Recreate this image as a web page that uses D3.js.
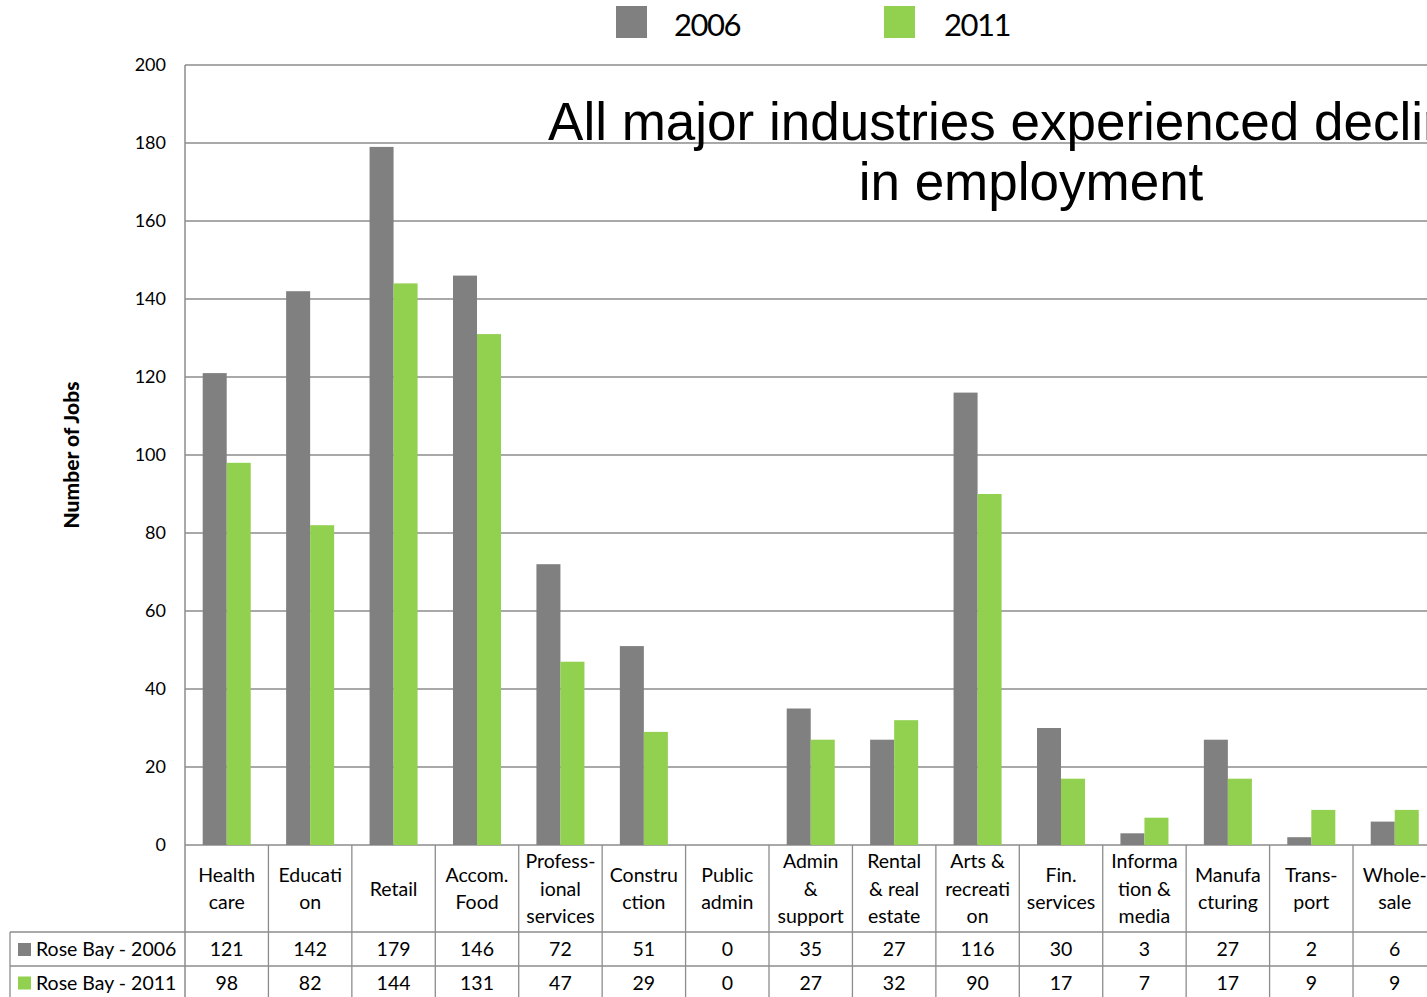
<!DOCTYPE html>
<html>
<head>
<meta charset="utf-8">
<script src="https://cdn.jsdelivr.net/npm/d3@7/dist/d3.min.js"></script>
<style>
  html, body { margin: 0; padding: 0; background: #fff; }
  svg { display: block; }
</style>
</head>
<body>
<svg id="chart" width="1427" height="997"></svg>
<script>
// Industry categories (line breaks as shown in the data table header)
const categories = [
  "Health\ncare", "Educati\non", "Retail", "Accom.\nFood", "Profess-\nional\nservices",
  "Constru\nction", "Public\nadmin", "Admin\n&\nsupport", "Rental\n& real\nestate",
  "Arts &\nrecreati\non", "Fin.\nservices", "Informa\ntion &\nmedia", "Manufa\ncturing",
  "Trans-\nport", "Whole-\nsale"
];
const jobs2006 = [121, 142, 179, 146, 72, 51, 0, 35, 27, 116, 30, 3, 27, 2, 6];
const jobs2011 = [98, 82, 144, 131, 47, 29, 0, 27, 32, 90, 17, 7, 17, 9, 9];
const seriesNames = ["2006", "2011"];
const rowLabels = ["Rose Bay - 2006", "Rose Bay - 2011"];
const yTicks = [0, 20, 40, 60, 80, 100, 120, 140, 160, 180, 200];
const titleLines = ["All major industries experienced decline", "in employment"];

const colors = { "2006": "#808080", "2011": "#92D050" };
const gridColor = "#8c8c8c";
const font = "Lato, 'Open Sans', sans-serif";

const svg = d3.select("#chart");

const plot = { left: 185, top: 65, bottom: 845, bandW: 83.43 };
plot.right = plot.left + plot.bandW * categories.length;

const x = d3.scaleBand().domain(d3.range(categories.length))
  .range([plot.left, plot.right]).padding(0);
const xs = d3.scaleBand().domain(seriesNames)
  .range([17.7, x.bandwidth() - 17.7]).padding(0);
const y = d3.scaleLinear().domain([0, 200]).range([plot.bottom, plot.top]);

// Horizontal gridlines
svg.append("g").selectAll("line").data(yTicks).join("line")
  .attr("x1", plot.left).attr("x2", plot.right)
  .attr("y1", d => y(d)).attr("y2", d => y(d))
  .attr("stroke", gridColor).attr("stroke-width", 1.3);

// Y axis tick labels
svg.append("g").selectAll("text").data(yTicks).join("text")
  .attr("x", 166).attr("y", d => y(d) + 6)
  .attr("text-anchor", "end")
  .attr("font-family", font).attr("font-size", 18).attr("fill", "#000")
  .text(d => d);

// Y axis title
svg.append("text")
  .attr("transform", "translate(79,455) rotate(-90)")
  .attr("text-anchor", "middle")
  .attr("font-family", font).attr("font-size", 21).attr("font-weight", 900)
  .text("Number of Jobs");

// Bars
const series = [
  { name: "2006", values: jobs2006 },
  { name: "2011", values: jobs2011 }
];
const groups = svg.append("g").selectAll("g").data(series).join("g")
  .attr("fill", d => colors[d.name]);
groups.selectAll("rect").data(s => s.values.map((v, i) => ({ s: s.name, v, i }))).join("rect")
  .attr("x", d => x(d.i) + xs(d.s))
  .attr("width", xs.bandwidth())
  .attr("y", d => y(d.v))
  .attr("height", d => y(0) - y(d.v));

// Left axis line
svg.append("line")
  .attr("x1", plot.left).attr("x2", plot.left)
  .attr("y1", plot.top).attr("y2", 997)
  .attr("stroke", gridColor).attr("stroke-width", 1.5);

// Data table
const table = { headerBottom: 932, row1Bottom: 966, labelLeft: 10 };
const tbl = svg.append("g");

// Vertical cell borders
tbl.selectAll("line.v").data(d3.range(1, categories.length + 1)).join("line")
  .attr("class", "v")
  .attr("x1", d => plot.left + d * x.bandwidth()).attr("x2", d => plot.left + d * x.bandwidth())
  .attr("y1", plot.bottom).attr("y2", 997)
  .attr("stroke", gridColor).attr("stroke-width", 1.3);
tbl.append("line")
  .attr("x1", table.labelLeft).attr("x2", table.labelLeft)
  .attr("y1", table.headerBottom).attr("y2", 997)
  .attr("stroke", gridColor).attr("stroke-width", 1.3);
// Horizontal row borders
tbl.selectAll("line.h").data([table.headerBottom, table.row1Bottom]).join("line")
  .attr("class", "h")
  .attr("x1", table.labelLeft).attr("x2", plot.right)
  .attr("y1", d => d).attr("y2", d => d)
  .attr("stroke", gridColor).attr("stroke-width", 1.3);

// Category header labels
const lineH = 27.5;
const headerMid = (plot.bottom + table.headerBottom) / 2;
categories.forEach((c, i) => {
  const lines = c.split("\n");
  const t = tbl.append("text")
    .attr("text-anchor", "middle")
    .attr("font-family", font).attr("font-size", 19.5).attr("fill", "#000");
  lines.forEach((ln, k) => {
    t.append("tspan")
      .attr("x", x(i) + x.bandwidth() / 2)
      .attr("y", headerMid + (k - (lines.length - 1) / 2) * lineH + 7)
      .text(ln);
  });
});

// Value rows
const rowCenters = [(table.headerBottom + table.row1Bottom) / 2, (table.row1Bottom + 999) / 2];
series.forEach((s, r) => {
  tbl.append("g").selectAll("text").data(s.values).join("text")
    .attr("x", (d, i) => x(i) + x.bandwidth() / 2)
    .attr("y", rowCenters[r] + 7)
    .attr("text-anchor", "middle")
    .attr("font-family", font).attr("font-size", 19.5).attr("fill", "#000")
    .text(d => d);
  tbl.append("rect")
    .attr("x", 18).attr("y", rowCenters[r] - 6)
    .attr("width", 13).attr("height", 13)
    .attr("fill", colors[s.name]);
  tbl.append("text")
    .attr("x", 36).attr("y", rowCenters[r] + 7)
    .attr("font-family", font).attr("font-size", 19.5).attr("fill", "#000")
    .text(rowLabels[r]);
});

// Legend
const legend = svg.append("g");
const legendPos = [{ name: "2006", sx: 616, tx: 674 }, { name: "2011", sx: 884, tx: 944 }];
legendPos.forEach(l => {
  legend.append("rect")
    .attr("x", l.sx).attr("y", 6).attr("width", 31).attr("height", 32)
    .attr("fill", colors[l.name]);
  legend.append("text")
    .attr("x", l.tx).attr("y", 36)
    .attr("font-family", font).attr("font-size", 31).attr("letter-spacing", -1.5).attr("fill", "#000")
    .text(l.name);
});

// Title (runs past the right edge of the plot)
const title = svg.append("text")
  .attr("text-anchor", "middle")
  .attr("font-family", "'Liberation Sans', Arial, sans-serif")
  .attr("font-size", 53).attr("fill", "#000");
const titleCenters = [1015, 1031];
titleLines.forEach((ln, k) => {
  title.append("tspan").attr("x", titleCenters[k]).attr("y", 140 + k * 60).text(ln);
});
</script>
</body>
</html>
